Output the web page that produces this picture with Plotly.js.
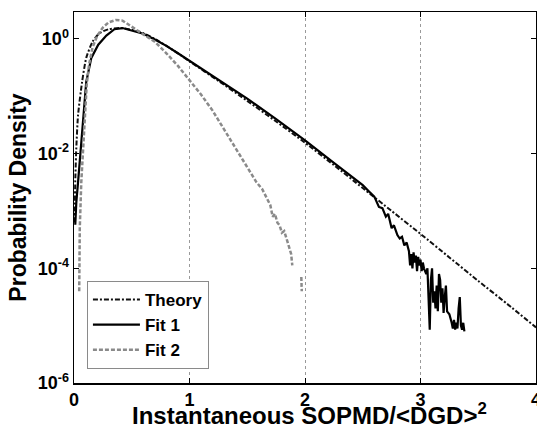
<!DOCTYPE html>
<html>
<head>
<meta charset="utf-8">
<script src="https://cdn.plot.ly/plotly-3.0.1.min.js"></script>
<style>html,body{margin:0;padding:0;background:#fff;}#chart{width:537px;height:435px;}</style>
</head>
<body>
<div id="chart"></div>
<script>
// Values (y given as log10 of probability density)
const theoryX = [0.004, 0.006, 0.012, 0.02, 0.035, 0.07, 0.106, 0.16, 0.22, 0.3, 0.4, 0.5, 0.6, 0.7, 0.8, 0.9, 1.0, 1.25, 1.5, 1.75, 2.0, 2.25, 2.5, 2.75, 3.0, 3.25, 3.5, 3.75, 4.0];
const theoryLog10 = [-3.2, -3.0, -2.4, -1.9, -1.33, -0.75, -0.33, -0.05, 0.1, 0.17, 0.19, 0.16, 0.1, 0.0, -0.12, -0.25, -0.39, -0.73, -1.08, -1.44, -1.81, -2.2, -2.6, -3.0, -3.4, -3.81, -4.22, -4.62, -5.03];

const fit1X = [0.011, 0.02, 0.035, 0.058, 0.078, 0.106, 0.15, 0.21, 0.28, 0.35, 0.42, 0.5, 0.6, 0.7, 0.8, 0.9, 1.0, 1.25, 1.5, 1.75, 2.0, 2.25, 2.5, 2.55, 2.6, 2.64, 2.67, 2.7, 2.72, 2.75, 2.77, 2.8, 2.82, 2.84, 2.86, 2.88, 2.9, 2.91, 2.92, 2.93, 2.94, 2.95, 2.96, 2.97, 2.98, 2.99, 3.0, 3.01, 3.02, 3.03, 3.05, 3.06, 3.07, 3.08, 3.09, 3.1, 3.11, 3.12, 3.13, 3.14, 3.15, 3.16, 3.17, 3.18, 3.19, 3.2, 3.21, 3.22, 3.23, 3.25, 3.27, 3.28, 3.29, 3.3, 3.31, 3.32, 3.33, 3.34, 3.35, 3.36, 3.37, 3.38];
const fit1Log10 = [-3.24, -2.85, -2.5, -1.9, -1.33, -0.75, -0.33, -0.1, 0.06, 0.17, 0.19, 0.15, 0.09, -0.01, -0.12, -0.25, -0.38, -0.7, -1.04, -1.4, -1.77, -2.16, -2.55, -2.65, -2.75, -2.93, -2.95, -3.1, -3.05, -3.3, -3.25, -3.42, -3.48, -3.45, -3.6, -3.55, -3.7, -3.95, -3.75, -4.0, -3.72, -3.9, -3.78, -4.05, -3.8, -3.95, -3.85, -4.05, -3.9, -4.0, -4.1, -4.0, -4.5, -5.07, -4.2, -4.0, -4.6, -4.4, -4.7, -4.3, -4.75, -4.1, -4.2, -4.6, -4.35, -4.78, -4.5, -4.3, -4.75, -4.8, -4.95, -5.05, -4.9, -5.07, -4.95, -5.05, -4.7, -4.5, -5.0, -5.07, -4.95, -5.1];

const fit2X = [0.045, 0.048, 0.05, 0.063, 0.078, 0.092, 0.11, 0.13, 0.16, 0.2, 0.25, 0.3, 0.36, 0.42, 0.5, 0.6, 0.7, 0.8, 0.9, 1.0, 1.1, 1.2, 1.3, 1.4, 1.5, 1.58, 1.63, 1.67, 1.7, 1.72, 1.74, 1.76, 1.78, 1.8, 1.82, 1.84, 1.86, 1.88, 1.89, 1.93, 1.968, 1.972];
const fit2Log10 = [-4.4, -3.8, -3.3, -2.5, -1.9, -1.33, -0.8, -0.45, -0.15, 0.05, 0.2, 0.29, 0.33, 0.32, 0.22, 0.08, -0.05, -0.25, -0.47, -0.72, -0.97, -1.25, -1.58, -1.93, -2.25, -2.5, -2.62, -2.78, -2.9, -3.1, -3.05, -3.2, -3.25, -3.38, -3.35, -3.48, -3.6, -3.75, -3.95, null, -4.15, -4.4];

const xTickVals = [0, 1, 2, 3, 4];
const xTickText = ['0', '1', '2', '3', '4'];
const yTickVals = [1, 1e-2, 1e-4, 1e-6];
const yTickText = ['10<sup>0</sup>', '10<sup>-2</sup>', '10<sup>-4</sup>', '10<sup>-6</sup>'];
const xTitle = '<b>Instantaneous SOPMD/&lt;DGD&gt;<sup>2</sup></b>';
const yTitle = '<b>Probability Density</b>';

const toVal = a => a.map(v => v === null ? null : Math.pow(10, v));

const FONT = 'Liberation Sans, Arial, sans-serif';

const traces = [
  {x: theoryX, y: toVal(theoryLog10), name: '<b>Theory</b>', mode: 'lines',
   line: {color: '#111', width: 2, dash: '5px,2px,2px,2px', shape: 'spline', smoothing: 0.6}},
  {x: fit1X, y: toVal(fit1Log10), name: '<b>Fit 1</b>', mode: 'lines',
   line: {color: '#000', width: 2.2}},
  {x: fit2X, y: toVal(fit2Log10), name: '<b>Fit 2</b>', mode: 'lines', connectgaps: false,
   line: {color: '#8a8a8a', width: 2.5, dash: '4px,2px'}}
];

const layout = {
  width: 537, height: 435,
  margin: {l: 74, r: 1, t: 12, b: 52},
  paper_bgcolor: '#fff', plot_bgcolor: '#fff',
  font: {family: FONT, color: '#000'},
  showlegend: true,
  legend: {x: 0.028, y: 0.275, xanchor: 'left', yanchor: 'top',
    bgcolor: '#fff', bordercolor: '#8a8a8a', borderwidth: 1,
    font: {family: FONT, size: 17, color: '#000'}, tracegroupgap: 0, itemwidth: 47},
  annotations: [
    {text: xTitle, xref: 'paper', yref: 'paper', x: 0.51, y: -0.084, xanchor: 'center', yanchor: 'middle',
     showarrow: false, font: {family: FONT, size: 24, color: '#000'}}
  ],
  xaxis: {
    range: [0, 4], tickvals: xTickVals, ticktext: xTickText,
    ticks: 'inside', ticklen: 5, tickcolor: '#000', mirror: 'ticks',
    showline: true, linecolor: '#000', linewidth: 1.5,
    showgrid: true, gridcolor: '#9a9a9a', griddash: 'dot', gridwidth: 1,
    zeroline: false, ticklabeloverflow: 'allow', ticklabelstandoff: 0,
    tickfont: {family: FONT, size: 18, color: '#000', weight: 'bold'}
  },
  yaxis: {
    type: 'log', range: [-6, 0.47], tickvals: yTickVals, ticktext: yTickText,
    ticks: 'inside', ticklen: 5, tickcolor: '#000', mirror: 'ticks',
    showline: true, linecolor: '#000', linewidth: 1.5,
    showgrid: false, zeroline: false,
    tickfont: {family: FONT, size: 18, color: '#000', weight: 'bold'},
    title: {text: yTitle, font: {family: FONT, size: 23, color: '#000'}, standoff: 4}
  }
};

Plotly.newPlot('chart', traces, layout, {displayModeBar: false, staticPlot: true});
</script>
</body>
</html>
